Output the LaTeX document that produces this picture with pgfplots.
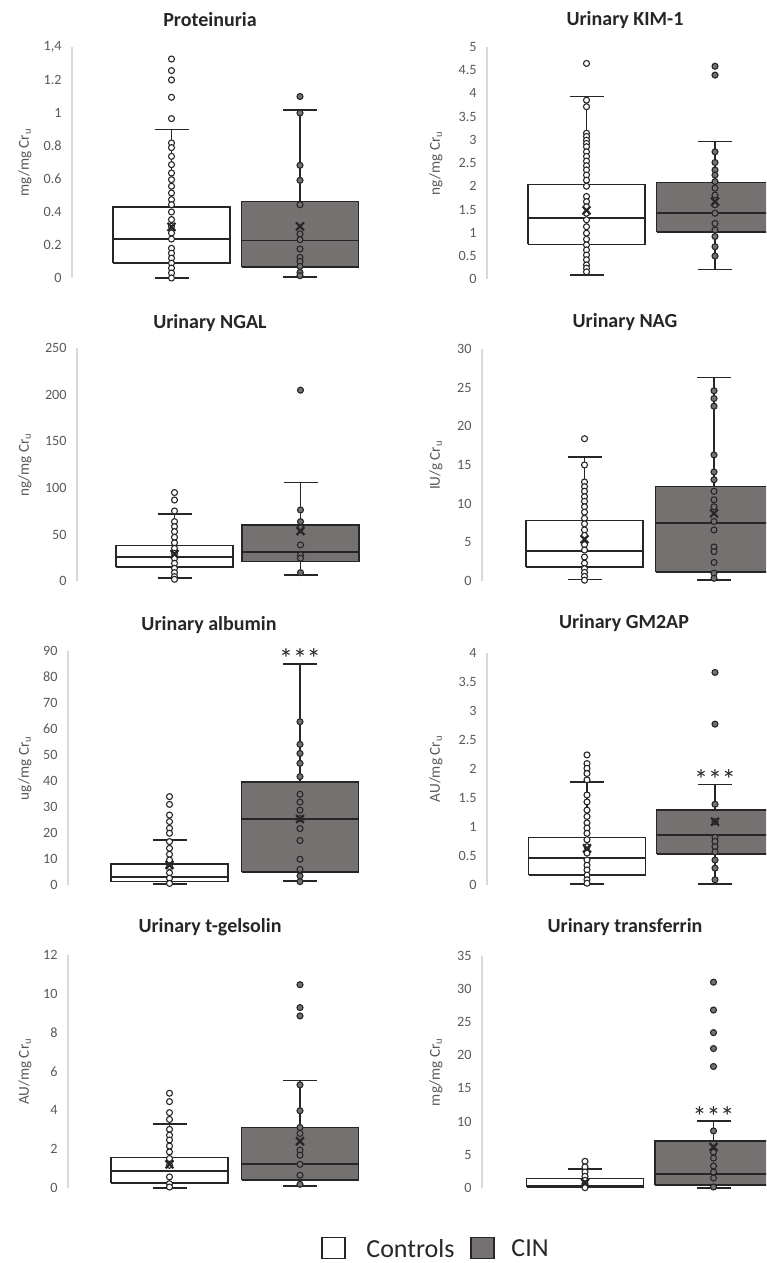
\documentclass[border=0pt]{standalone}
\usepackage{fontspec}
\setmainfont{Carlito}
\usepackage{pgfplots}
\pgfplotsset{compat=1.18}
\definecolor{boxline}{HTML}{262626}
\definecolor{cingray}{HTML}{767171}
\definecolor{axisgray}{HTML}{D9D9D9}
\definecolor{tickgray}{HTML}{595959}
\pgfplotsset{
  panel/.style={scale only axis, width=165pt, xmin=0, xmax=330, clip=false,
    anchor=south west,
    axis x line=none, axis y line=left,
    y axis line style={-, draw=axisgray, line width=0.7pt},
    ytick style={draw=none}, major tick length=0pt,
    yticklabel style={font=\fontsize{7.1}{8}\selectfont, text=tickgray, inner sep=0pt, xshift=-5pt},
    /pgf/number format/assume math mode=true,
    every axis y label/.style={rotate=90, anchor=center, font=\fontsize{7.6}{9}\selectfont, text=tickgray},
  },
  ctrlpts/.style={only marks, mark=*, mark size=1.5pt, mark options={draw=boxline, fill=white, line width=0.55pt}},
  cinpts/.style={only marks, mark=*, mark size=1.5pt, mark options={draw=boxline, fill=cingray, line width=0.55pt}},
  meanx/.style={only marks, mark=x, mark size=2.8pt, mark options={draw=boxline, line width=1.1pt}},
}
% box: left, right, lower quartile, median, upper quartile, fill
\newcommand{\bxbox}[6]{%
 \addplot[draw=boxline, line width=0.85pt, line join=miter, fill=#6] coordinates {(#1,#3)(#2,#3)(#2,#5)(#1,#5)(#1,#3)};
 \addplot[draw=boxline, line width=0.85pt] coordinates {(#1,#4)(#2,#4)};}
% whiskers: centre, cap left, cap right, lower whisker, lower quartile, upper quartile, upper whisker
\newcommand{\bxwh}[7]{%
 \addplot[draw=boxline, line width=0.85pt] coordinates {(#1,#6)(#1,#7)};
 \addplot[draw=boxline, line width=0.85pt] coordinates {(#2,#7)(#3,#7)};
 \addplot[draw=boxline, line width=0.85pt] coordinates {(#1,#5)(#1,#4)};
 \addplot[draw=boxline, line width=0.85pt] coordinates {(#2,#4)(#3,#4)};}
\newcommand{\ttl}{\bfseries\fontsize{10}{12}\selectfont}
\begin{document}
\begin{tikzpicture}
\useasboundingbox (0,0) rectangle (383pt,631.5pt);
\clip (0,0) rectangle (383pt,631.5pt);

% ---------- Proteinuria ----------
\begin{axis}[panel, at={(36pt,492.5pt)}, height=115.5pt, ymin=0, ymax=1.4,
  ytick={0,0.2,0.4,0.6,0.8,1,1.2,1.4}, yticklabels={0,0.2,0.4,0.6,0.8,1,1.2,{1,4}},
  ylabel={mg/mg Cr\textsubscript{u}}, ylabel style={at={(axis description cs:-0.1424,0.5)}}]
\bxbox{41}{158}{0.09}{0.235}{0.43}{white}
\bxwh{99.5}{82.5}{116.5}{0}{0.09}{0.43}{0.90}
\addplot[ctrlpts] coordinates {(99.5,1.327)(99.5,1.257)(99.5,1.20)(99.5,1.095)(99.5,0.966)(99.5,0.818)(99.5,0.79)(99.5,0.737)(99.5,0.687)(99.5,0.636)(99.5,0.596)(99.5,0.556)(99.5,0.515)(99.5,0.475)(99.5,0.444)(99.5,0.40)(99.5,0.354)(99.5,0.313)(99.5,0.273)(99.5,0.236)(99.5,0.18)(99.5,0.15)(99.5,0.12)(99.5,0.09)(99.5,0.06)(99.5,0.03)(99.5,0.0)};
\addplot[meanx] coordinates {(99.5,0.31)};
\bxbox{169.5}{286.5}{0.065}{0.228}{0.463}{cingray}
\bxwh{228}{211}{245}{0.006}{0.065}{0.463}{1.02}
\addplot[cinpts] coordinates {(228,1.10)(228,1.00)(228,0.683)(228,0.592)(228,0.444)(228,0.267)(228,0.232)(228,0.176)(228,0.125)(228,0.10)(228,0.07)(228,0.034)(228,0.014)};
\addplot[meanx] coordinates {(228,0.313)};
\end{axis}

% ---------- KIM-1 ----------
\begin{axis}[panel, at={(243.5pt,491.85pt)}, height=116.3pt, ymin=0, ymax=5,
  ytick={0,0.5,1,1.5,2,2.5,3,3.5,4,4.5,5},
  ylabel={ng/mg Cr\textsubscript{u}}, ylabel style={at={(axis description cs:-0.1545,0.5)}}]
\bxbox{41}{158}{0.75}{1.31}{2.04}{white}
\bxwh{99.5}{82.5}{116.5}{0.09}{0.75}{2.04}{3.93}
\addplot[ctrlpts] coordinates {(99.5,4.64)(99.5,3.85)(99.5,3.71)(99.5,3.14)(99.5,3.07)(99.5,2.99)(99.5,2.92)(99.5,2.85)(99.5,2.74)(99.5,2.64)(99.5,2.54)(99.5,2.44)(99.5,2.35)(99.5,2.24)(99.5,2.13)(99.5,2.0)(99.5,1.78)(99.5,1.67)(99.5,1.56)(99.5,1.42)(99.5,1.28)(99.5,1.13)(99.5,0.99)(99.5,0.86)(99.5,0.74)(99.5,0.63)(99.5,0.52)(99.5,0.42)(99.5,0.31)(99.5,0.24)(99.5,0.16)};
\addplot[meanx] coordinates {(99.5,1.48)};
\bxbox{169.5}{286.5}{1.01}{1.42}{2.08}{cingray}
\bxwh{228}{211}{245}{0.21}{1.01}{2.08}{2.96}
\addplot[cinpts] coordinates {(228,4.58)(228,4.39)(228,2.74)(228,2.51)(228,2.35)(228,2.24)(228,2.10)(228,1.96)(228,1.81)(228,1.60)(228,1.42)(228,1.20)(228,1.06)(228,0.92)(228,0.70)(228,0.50)};
\addplot[meanx] coordinates {(228,1.67)};
\end{axis}

% ---------- NGAL ----------
\begin{axis}[panel, at={(38.5pt,341pt)}, height=116.35pt, ymin=0, ymax=250,
  ytick={0,50,100,150,200,250},
  ylabel={ng/mg Cr\textsubscript{u}}, ylabel style={at={(axis description cs:-0.1576,0.5)}}]
\bxbox{39}{156}{15.4}{25.4}{38}{white}
\bxwh{97.5}{80.5}{114.5}{2.9}{15.4}{38}{72.3}
\addplot[ctrlpts] coordinates {(97.5,95)(97.5,87)(97.5,75.2)(97.5,63.8)(97.5,58.4)(97.5,53)(97.5,47)(97.5,41)(97.5,35)(97.5,29.7)(97.5,24.4)(97.5,19)(97.5,13.6)(97.5,9)(97.5,4.7)(97.5,1.8)};
\addplot[meanx] coordinates {(97.5,29)};
\bxbox{165}{282}{20.8}{30.8}{59.8}{cingray}
\bxwh{223.5}{206.5}{240.5}{6.4}{20.8}{59.8}{105.7}
\addplot[cinpts] coordinates {(223.5,205)(223.5,76.3)(223.5,63.8)(223.5,57)(223.5,38.7)(223.5,28)(223.5,24.4)(223.5,9)};
\addplot[meanx] coordinates {(223.5,53.7)};
\end{axis}

% ---------- NAG ----------
\begin{axis}[panel, at={(241pt,341pt)}, height=116pt, ymin=0, ymax=30,
  ytick={0,5,10,15,20,25,30},
  ylabel={IU/g Cr\textsubscript{u}}, ylabel style={at={(axis description cs:-0.1394,0.5)}}]
\bxbox{44}{161}{1.77}{3.88}{7.84}{white}
\bxwh{102.5}{85.5}{119.5}{0.2}{1.77}{7.84}{16.0}
\addplot[ctrlpts] coordinates {(102.5,18.4)(102.5,15.0)(102.5,12.8)(102.5,12.2)(102.5,11.6)(102.5,10.9)(102.5,10.3)(102.5,9.6)(102.5,8.9)(102.5,8.1)(102.5,7.4)(102.5,6.6)(102.5,5.9)(102.5,4.7)(102.5,4.0)(102.5,3.1)(102.5,2.3)(102.5,1.6)(102.5,1.1)(102.5,0.6)(102.5,0.1)};
\addplot[meanx] coordinates {(102.5,5.4)};
\bxbox{173.5}{290.5}{1.2}{7.54}{12.2}{cingray}
\bxwh{232}{215}{249}{0.1}{1.2}{12.2}{26.3}
\addplot[cinpts] coordinates {(232,24.6)(232,23.6)(232,22.6)(232,16.3)(232,14.1)(232,13.1)(232,11.6)(232,10.5)(232,9.6)(232,7.7)(232,6.6)(232,4.4)(232,3.8)(232,2.4)(232,1.0)(232,0.35)};
\addplot[meanx] coordinates {(232,8.75)};
\end{axis}

% ---------- albumin ----------
\begin{axis}[panel, at={(34pt,189pt)}, height=117pt, ymin=0, ymax=90,
  ytick={0,10,20,30,40,50,60,70,80,90},
  ylabel={ug/mg Cr\textsubscript{u}}, ylabel style={at={(axis description cs:-0.1303,0.5)}}]
\bxbox{43}{160}{1.3}{3.2}{8.1}{white}
\bxwh{101.5}{84.5}{118.5}{0.4}{1.3}{8.1}{17.3}
\addplot[ctrlpts] coordinates {(101.5,34)(101.5,31)(101.5,26.9)(101.5,24.4)(101.5,21.8)(101.5,19.9)(101.5,16.7)(101.5,14.1)(101.5,11.8)(101.5,9.6)(101.5,7.1)(101.5,4.7)(101.5,2.6)(101.5,0.6)};
\addplot[meanx] coordinates {(101.5,7.7)};
\bxbox{173.5}{290.5}{5.1}{25.5}{39.5}{cingray}
\bxwh{232}{215}{249}{1.5}{5.1}{39.5}{85}
\addplot[cinpts] coordinates {(232,62.8)(232,54.1)(232,50.6)(232,46.8)(232,41.7)(232,34.9)(232,31.9)(232,28.8)(232,25.5)(232,21.7)(232,17.1)(232,9.9)(232,6)(232,3.5)(232,1.3)};
\addplot[meanx] coordinates {(232,25.4)};
\end{axis}

% ---------- GM2AP ----------
\begin{axis}[panel, at={(243.5pt,189pt)}, height=116.15pt, ymin=0, ymax=4,
  ytick={0,0.5,1,1.5,2,2.5,3,3.5,4},
  ylabel={AU/mg Cr\textsubscript{u}}, ylabel style={at={(axis description cs:-0.1545,0.5)}}]
\bxbox{41.5}{158.5}{0.17}{0.46}{0.82}{white}
\bxwh{100}{83}{117}{0.02}{0.17}{0.82}{1.77}
\addplot[ctrlpts] coordinates {(100,2.24)(100,2.09)(100,2.01)(100,1.92)(100,1.81)(100,1.55)(100,1.43)(100,1.29)(100,1.18)(100,1.07)(100,0.98)(100,0.89)(100,0.78)(100,0.66)(100,0.55)(100,0.43)(100,0.34)(100,0.26)(100,0.17)(100,0.09)(100,0.03)};
\addplot[meanx] coordinates {(100,0.63)};
\bxbox{169.5}{286.5}{0.53}{0.86}{1.29}{cingray}
\bxwh{228}{211}{245}{0.02}{0.53}{1.29}{1.73}
\addplot[cinpts] coordinates {(228,3.66)(228,2.77)(228,1.39)(228,1.09)(228,0.82)(228,0.75)(228,0.66)(228,0.57)(228,0.43)(228,0.29)(228,0.09)};
\addplot[meanx] coordinates {(228,1.09)};
\end{axis}

% ---------- t-gelsolin ----------
\begin{axis}[panel, at={(34pt,37.5pt)}, height=116.5pt, ymin=0, ymax=12,
  ytick={0,2,4,6,8,10,12},
  ylabel={AU/mg Cr\textsubscript{u}}, ylabel style={at={(axis description cs:-0.1303,0.5)}}]
\bxbox{43}{160}{0.26}{0.86}{1.57}{white}
\bxwh{101.5}{84.5}{118.5}{0}{0.26}{1.57}{3.28}
\addplot[ctrlpts] coordinates {(101.5,4.88)(101.5,4.45)(101.5,3.88)(101.5,3.53)(101.5,3.02)(101.5,2.72)(101.5,2.47)(101.5,2.16)(101.5,1.86)(101.5,1.52)(101.5,1.17)(101.5,0.57)(101.5,0.22)(101.5,0.05)};
\addplot[meanx] coordinates {(101.5,1.22)};
\bxbox{173.5}{290.5}{0.40}{1.22}{3.12}{cingray}
\bxwh{232}{215}{249}{0.1}{0.40}{3.12}{5.53}
\addplot[cinpts] coordinates {(232,10.47)(232,9.29)(232,8.86)(232,5.31)(232,3.98)(232,3.12)(232,2.81)(232,1.95)(232,1.69)(232,1.22)(232,0.66)(232,0.19)};
\addplot[meanx] coordinates {(232,2.41)};
\end{axis}

% ---------- transferrin ----------
\begin{axis}[panel, at={(241pt,37.5pt)}, height=116.2pt, ymin=0, ymax=35,
  ytick={0,5,10,15,20,25,30,35},
  ylabel={mg/mg Cr\textsubscript{u}}, ylabel style={at={(axis description cs:-0.1394,0.5)}}]
\bxbox{44.5}{161.5}{0.2}{0.35}{1.41}{white}
\bxwh{103}{86}{120}{0.1}{0.2}{1.41}{2.91}
\addplot[ctrlpts] coordinates {(103,4.02)(103,3.17)(103,2.41)(103,1.76)(103,1.16)(103,0.65)(103,0.25)(103,0.05)};
\addplot[meanx] coordinates {(103,0.8)};
\bxbox{173}{290}{0.40}{2.11}{7.09}{cingray}
\bxwh{231.5}{214.5}{248.5}{0}{0.40}{7.09}{10.1}
\addplot[cinpts] coordinates {(231.5,31.0)(231.5,26.8)(231.5,23.4)(231.5,21.0)(231.5,18.3)(231.5,8.6)(231.5,5.4)(231.5,4.5)(231.5,3.3)(231.5,2.4)(231.5,1.5)(231.5,0.15)};
\addplot[meanx] coordinates {(231.5,6.18)};
\end{axis}

\begin{scope}[x=0.5pt,y=0.5pt]
% titles
\node[font=\ttl, text=boxline] at (210,1243) {Proteinuria};
\node[font=\ttl, text=boxline] at (625,1243) {Urinary KIM-1};
\node[font=\ttl, text=boxline] at (210,940) {Urinary NGAL};
\node[font=\ttl, text=boxline] at (625,941) {Urinary NAG};
\node[font=\ttl, text=boxline] at (209,638) {Urinary albumin};
\node[font=\ttl, text=boxline] at (624,640) {Urinary GM2AP};
\node[font=\ttl, text=boxline] at (210,336) {Urinary t-gelsolin};
\node[font=\ttl, text=boxline] at (625,336) {Urinary transferrin};
% significance
\node[font=\fontsize{14}{15}\selectfont, text=boxline] at (300,604) {***};
\node[font=\fontsize{14}{15}\selectfont, text=boxline] at (715,483) {***};
\node[font=\fontsize{14}{15}\selectfont, text=boxline] at (713.5,146) {***};
% legend
\draw[boxline, line width=0.8pt, fill=white] (322,4.5) rectangle (345,25.5);
\node[anchor=west, font=\fontsize{13}{15}\selectfont, text=boxline, inner sep=0pt] at (366,14.5) {Controls};
\draw[boxline, line width=0.8pt, fill=cingray] (471,4.5) rectangle (494,25.5);
\node[anchor=west, font=\fontsize{13}{15}\selectfont, text=boxline, inner sep=0pt] at (511,14.5) {CIN};
\end{scope}
\end{tikzpicture}
\end{document}
